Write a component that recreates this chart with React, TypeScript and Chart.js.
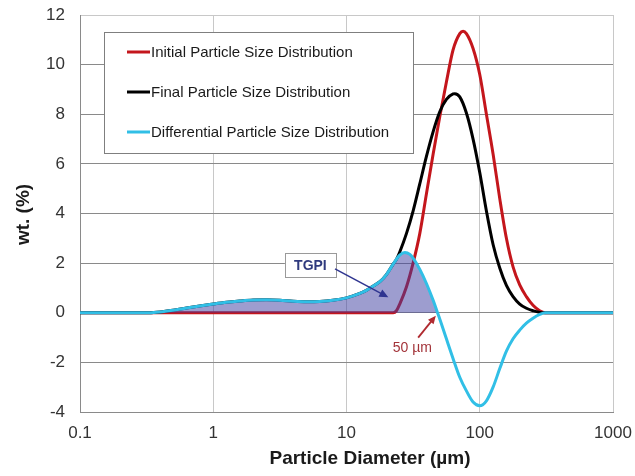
import React, { useEffect, useRef } from 'react';
import { Chart, registerables } from 'chart.js';

Chart.register(...registerables);

// ---------- data ----------
const seriesNames = [
  'Initial Particle Size Distribution',
  'Final Particle Size Distribution',
  'Differential Particle Size Distribution',
];

// Initial (red)
const initialDiam = [0.1, 22.4, 23.7, 25.1, 28.2, 31.6, 35.5, 39.8, 44.7, 50.1, 56.2, 63.1, 70.8, 75, 79.4, 89.1, 100, 112.2, 125.9, 141.3, 158.5, 177.8, 199.5, 223.9, 251, 281.8, 309, 1000];
const initialWt = [0, 0, 0.08, 0.35, 1.05, 2.0, 3.2, 4.8, 6.4, 7.9, 9.3, 10.6, 11.25, 11.35, 11.25, 10.65, 9.6, 8.0, 6.4, 4.6, 3.0, 1.85, 1.12, 0.65, 0.3, 0.08, 0, 0];

// Final (black)
const finalDiam = [0.1, 0.33, 0.4, 0.5, 0.63, 0.79, 1, 1.26, 1.58, 2, 2.5, 3.16, 3.98, 5, 6.3, 7.9, 10, 12.6, 14.1, 15.8, 17.8, 20, 22.4, 23.7, 25.1, 28.2, 31.6, 35.5, 39.8, 44.7, 50.1, 56.2, 63.1, 65, 70.8, 79.4, 89.1, 100, 112.2, 125.9, 141.3, 158.5, 177.8, 199.5, 223.9, 251, 299, 1000];
const finalWt = [0, 0, 0.03, 0.1, 0.19, 0.27, 0.35, 0.42, 0.47, 0.51, 0.52, 0.5, 0.46, 0.44, 0.45, 0.5, 0.6, 0.78, 0.9, 1.07, 1.25, 1.55, 1.96, 2.15, 2.45, 3.2, 4.1, 5.2, 6.3, 7.3, 8.1, 8.6, 8.82, 8.83, 8.7, 8.05, 7.0, 5.65, 4.1, 2.75, 1.8, 1.1, 0.65, 0.35, 0.18, 0.08, 0, 0];

// Differential (cyan)
const diffDiam = [0.1, 0.33, 0.4, 0.5, 0.63, 0.79, 1, 1.26, 1.58, 2, 2.5, 3.16, 3.98, 5, 6.3, 7.9, 10, 12.6, 14.1, 15.8, 17.8, 20, 22.4, 25.1, 27.4, 29.9, 31.6, 35.5, 39.8, 44.7, 48.2, 50.1, 56.2, 63.1, 70.8, 79.4, 89.1, 100, 112.2, 125.9, 141.3, 158.5, 177.8, 199.5, 223.9, 251, 281.8, 309, 1000];
const diffWt = [0, 0, 0.03, 0.1, 0.19, 0.27, 0.35, 0.42, 0.47, 0.51, 0.52, 0.5, 0.46, 0.44, 0.45, 0.5, 0.6, 0.78, 0.9, 1.07, 1.25, 1.55, 1.96, 2.32, 2.43, 2.35, 2.2, 1.75, 1.18, 0.5, 0, -0.25, -1.05, -1.85, -2.6, -3.15, -3.6, -3.75, -3.55, -3.0, -2.25, -1.55, -1.05, -0.7, -0.42, -0.22, -0.07, 0, 0];

// TGPI shaded region upper limit (µm)
const tgpiCutoff = 48.2;

const xTickValues = [0.1, 1, 10, 100, 1000];
const xTickLabels = ['0.1', '1', '10', '100', '1000'];
const yTickValues = [-4, -2, 0, 2, 4, 6, 8, 10, 12];
const yTickLabels = ['-4', '-2', '0', '2', '4', '6', '8', '10', '12'];

const xTitle = 'Particle Diameter (µm)';
const yTitle = 'wt. (%)';
const tgpiLabel = 'TGPI';
const cutLabel = '50 µm';

// ---------- style ----------
const FONT = "'Liberation Sans', Arial, sans-serif";
const RED = '#c4161c';
const BLACK = '#000000';
const CYAN = '#31bfe6';

const toPts = (xs: number[], ys: number[]) => xs.map((x, i) => ({ x, y: ys[i] }));

function drawArrow(ctx: CanvasRenderingContext2D, x1: number, y1: number, x2: number, y2: number, color: string, width: number, head: number) {
  const ang = Math.atan2(y2 - y1, x2 - x1);
  ctx.save();
  ctx.strokeStyle = color;
  ctx.fillStyle = color;
  ctx.lineWidth = width;
  ctx.beginPath();
  ctx.moveTo(x1, y1);
  ctx.lineTo(x2 - Math.cos(ang) * head * 0.7, y2 - Math.sin(ang) * head * 0.7);
  ctx.stroke();
  ctx.beginPath();
  ctx.moveTo(x2, y2);
  ctx.lineTo(x2 - head * Math.cos(ang) + (head * 0.45) * Math.sin(ang), y2 - head * Math.sin(ang) - (head * 0.45) * Math.cos(ang));
  ctx.lineTo(x2 - head * Math.cos(ang) - (head * 0.45) * Math.sin(ang), y2 - head * Math.sin(ang) + (head * 0.45) * Math.cos(ang));
  ctx.closePath();
  ctx.fill();
  ctx.restore();
}

const legendPlugin = {
  id: 'boxLegend',
  afterDatasetsDraw(chart: any) {
    const { ctx, chartArea } = chart;
    const x0 = chartArea.left + 24;
    const y0 = chartArea.top + 17;
    const w = 309;
    const h = 121;
    ctx.save();
    ctx.fillStyle = '#ffffff';
    ctx.fillRect(x0, y0, w, h);
    ctx.strokeStyle = '#7f7f7f';
    ctx.lineWidth = 1;
    ctx.strokeRect(x0 + 0.5, y0 + 0.5, w, h);
    const colors = [RED, BLACK, CYAN];
    ctx.font = `15px ${FONT}`;
    ctx.textBaseline = 'middle';
    ctx.textAlign = 'left';
    seriesNames.forEach((name, i) => {
      const cy = y0 + 20 + i * 40;
      ctx.strokeStyle = colors[i];
      ctx.lineWidth = 3;
      ctx.beginPath();
      ctx.moveTo(x0 + 23, cy);
      ctx.lineTo(x0 + 46, cy);
      ctx.stroke();
      ctx.fillStyle = '#1a1a1a';
      ctx.fillText(name, x0 + 47, cy + 0.5);
    });
    ctx.restore();
  },
};

const annotationPlugin = {
  id: 'annotations',
  afterDraw(chart: any) {
    const { ctx, chartArea } = chart;
    const xs = chart.scales.x;
    const ys = chart.scales.y;
    const px = (v: number) => xs.getPixelForValue(v);
    const py = (v: number) => ys.getPixelForValue(v);
    ctx.save();

    // TGPI box + arrow
    const bx = px(5.36);
    const by = py(1.92);
    const bw = 51;
    const bh = 24;
    ctx.fillStyle = '#ffffff';
    ctx.fillRect(bx - bw / 2, by - bh / 2, bw, bh);
    ctx.strokeStyle = '#9a9a9a';
    ctx.lineWidth = 1;
    ctx.strokeRect(Math.round(bx - bw / 2) + 0.5, Math.round(by - bh / 2) + 0.5, bw, bh);
    ctx.font = `bold 14px ${FONT}`;
    ctx.fillStyle = '#2f3a7e';
    ctx.textAlign = 'center';
    ctx.textBaseline = 'middle';
    ctx.fillText(tgpiLabel, bx, by + 1);
    drawArrow(ctx, px(8.2), py(1.77), px(20.6), py(0.62), '#2f3590', 1.5, 9);

    // 50 µm label + arrow
    ctx.font = `14px ${FONT}`;
    ctx.fillStyle = '#a3343a';
    ctx.fillText(cutLabel, px(31.2), py(-1.41));
    drawArrow(ctx, px(34.5), py(-1.0), px(46.8), py(-0.12), '#b02a30', 1.8, 8);

    // axis titles
    ctx.font = `bold 19px ${FONT}`;
    ctx.fillStyle = '#1a1a1a';
    ctx.fillText(xTitle, chartArea.left + 290, chartArea.bottom + 47);
    ctx.translate(24, (chartArea.top + chartArea.bottom) / 2 + 1);
    ctx.rotate(-Math.PI / 2);
    ctx.fillText(yTitle, 0, 0);
    ctx.restore();
  },
};

export default function App() {
  const ref = useRef<HTMLCanvasElement | null>(null);

  useEffect(() => {
    if (!ref.current) return;
    const diffPts = toPts(diffDiam, diffWt);
    const fillPts = diffPts.filter((p) => p.x <= tgpiCutoff);
    const chart = new Chart(ref.current, {
      type: 'line',
      data: {
        datasets: [
          {
            label: seriesNames[2],
            data: diffPts,
            borderColor: CYAN,
            borderWidth: 3,
            pointRadius: 0,
            fill: false,
            cubicInterpolationMode: 'monotone',
            order: 0,
          },
          {
            label: 'TGPI',
            data: fillPts,
            borderColor: 'rgba(0,0,0,0)',
            borderWidth: 1,
            backgroundColor: 'rgba(60,60,160,0.5)',
            pointRadius: 0,
            fill: 'origin',
            cubicInterpolationMode: 'monotone',
            order: 1,
          },
          {
            label: seriesNames[1],
            data: toPts(finalDiam, finalWt),
            borderColor: BLACK,
            borderWidth: 3,
            pointRadius: 0,
            fill: false,
            cubicInterpolationMode: 'monotone',
            order: 2,
          },
          {
            label: seriesNames[0],
            data: toPts(initialDiam, initialWt),
            borderColor: RED,
            borderWidth: 3,
            pointRadius: 0,
            fill: false,
            cubicInterpolationMode: 'monotone',
            order: 3,
          },
        ] as any,
      },
      options: {
        responsive: false,
        animation: false,
        events: [],
        layout: { padding: { top: 15, right: 22, left: 0, bottom: 0 } },
        plugins: {
          legend: { display: false },
          tooltip: { enabled: false },
          title: { display: false },
        },
        scales: {
          x: {
            type: 'logarithmic',
            min: 0.1,
            max: 1000,
            afterBuildTicks: (s: any) => {
              s.ticks = xTickValues.map((v) => ({ value: v }));
            },
            afterFit: (s: any) => {
              s.height = 64;
              s.paddingLeft = 0;
              s.paddingRight = 0;
            },
            ticks: {
              autoSkip: false,
              maxRotation: 0,
              padding: 11,
              color: '#333333',
              font: { family: FONT, size: 17 },
              callback: (_v: any, i: number) => xTickLabels[i],
            },
            grid: {
              drawTicks: false,
              color: (c: any) => (c.tick && c.tick.value === 0.1 ? '#8a8a8a' : '#c8c8c8'),
            },
            border: { color: '#8a8a8a' },
          },
          y: {
            type: 'linear',
            min: -4,
            max: 12,
            afterBuildTicks: (s: any) => {
              s.ticks = yTickValues.map((v) => ({ value: v }));
            },
            afterFit: (s: any) => {
              s.width = 80;
              s.paddingTop = 0;
              s.paddingBottom = 0;
            },
            ticks: {
              padding: 15,
              color: '#333333',
              font: { family: FONT, size: 17 },
              callback: (_v: any, i: number) => yTickLabels[i],
            },
            grid: {
              drawTicks: false,
              color: (c: any) => (c.tick && c.tick.value === 12 ? '#c8c8c8' : '#8a8a8a'),
            },
            border: { color: '#8a8a8a' },
          },
        },
      } as any,
      plugins: [legendPlugin, annotationPlugin],
    });
    return () => chart.destroy();
  }, []);

  return (
    <div style={{ position: 'absolute', left: 0, top: 0, width: 635, height: 476, background: '#fff' }}>
      <canvas ref={ref} width={635} height={476} style={{ display: 'block' }} />
    </div>
  );
}
